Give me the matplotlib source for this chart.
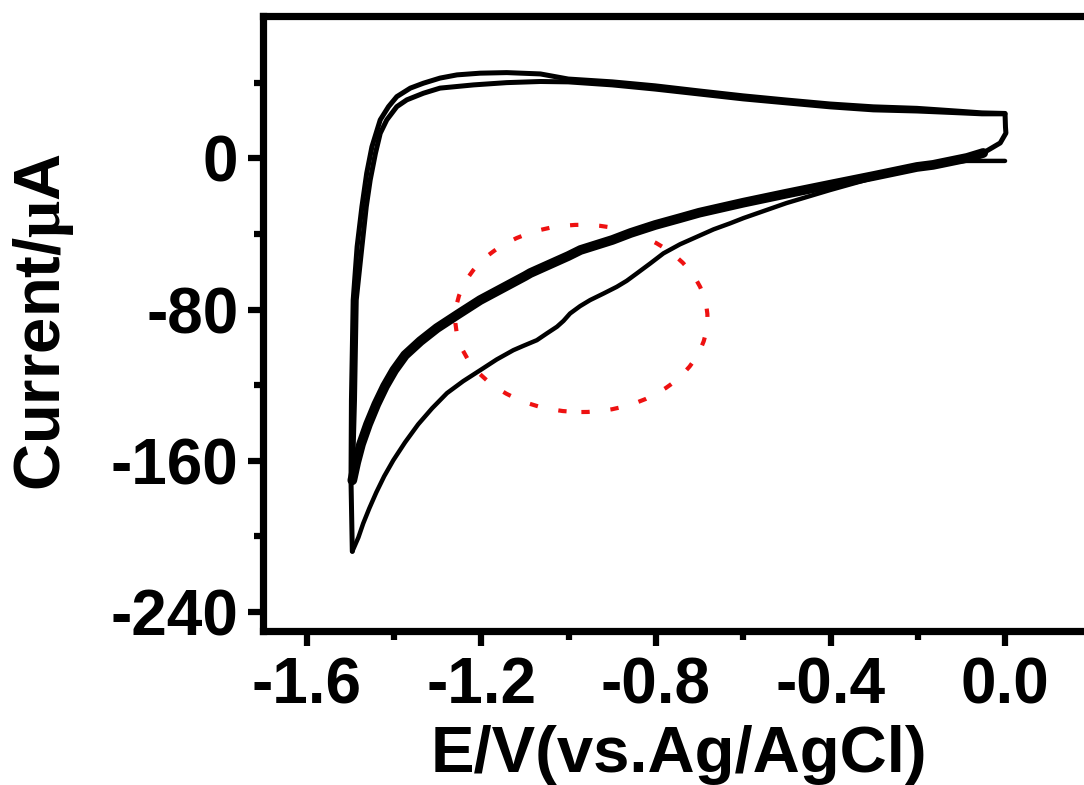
import matplotlib
matplotlib.use("Agg")
import matplotlib.pyplot as plt
from matplotlib.patches import Ellipse
from matplotlib.ticker import FixedLocator

# ---- data (E / V vs Ag/AgCl, current / uA) ----
# first cathodic sweep (thin, with shoulder)
cath1_E = [0.0, -0.092, -0.165, -0.201, -0.302, -0.401, -0.501, -0.599, -0.630, -0.668,
           -0.706, -0.745, -0.783, -0.813, -0.844, -0.867, -0.890, -0.920, -0.951, -0.974,
           -0.997, -1.012, -1.027, -1.050, -1.073, -1.104, -1.127, -1.165, -1.203, -1.242,
           -1.279, -1.313, -1.345, -1.375, -1.402, -1.423, -1.441, -1.457, -1.471, -1.482,
           -1.492, -1.496]
cath1_I = [-1.4, -1.4, -3.5, -5.1, -10.4, -16.8, -23.7, -31.6, -34.4, -37.6,
           -41.5, -45.5, -50.3, -55.6, -60.9, -64.8, -68.0, -71.5, -75.0, -78.2,
           -82.1, -86.0, -89.1, -92.6, -96.2, -99.2, -101.5, -106.4, -112.1, -117.9,
           -124.2, -132.2, -140.7, -150.2, -159.7, -168.2, -176.7, -185.1, -193.1, -200.5,
           -205.8, -207.9]

# first anodic sweep (outer), ending with the turn at 0 V
ano1_E = [-1.496, -1.499, -1.498, -1.494, -1.485, -1.474, -1.463, -1.451, -1.432, -1.413,
          -1.394, -1.363, -1.333, -1.295, -1.256, -1.203, -1.142, -1.065, -1.001, -0.900,
          -0.802, -0.701, -0.600, -0.501, -0.401, -0.302, -0.202, -0.151, -0.101, -0.053,
          0.0, 0.001, 0.002, -0.011, -0.050]
ano1_I = [-207.9, -170.4, -128.0, -75.0, -46.8, -25.6, -7.9, 6.1, 20.3, 27.3,
          32.6, 37.1, 39.7, 42.4, 44.1, 45.0, 45.3, 44.6, 41.9, 40.4,
          38.3, 35.6, 33.0, 30.8, 28.7, 27.2, 26.4, 25.6, 24.8, 24.0,
          23.7, 16.5, 13.3, 8.1, 2.8]

# following cathodic sweeps (thick band)
cath2_E = [-0.050, -0.087, -0.165, -0.202, -0.302, -0.401, -0.501, -0.600, -0.701, -0.744,
           -0.802, -0.858, -0.900, -0.973, -1.001, -1.088, -1.100, -1.203, -1.253, -1.302,
           -1.340, -1.375, -1.400, -1.421, -1.441, -1.460, -1.476, -1.487, -1.496]
cath2_I = [2.8, 0.2, -3.5, -4.6, -9.4, -14.0, -18.7, -23.5, -28.8, -31.6,
           -35.3, -39.5, -43.2, -48.5, -51.7, -60.7, -62.3, -75.0, -82.4, -89.8,
           -96.7, -104.1, -112.1, -120.5, -130.1, -140.7, -151.2, -160.8, -170.3]

# second anodic sweep (inner)
ano2_E = [-1.496, -1.491, -1.487, -1.474, -1.464, -1.455, -1.443, -1.432, -1.417, -1.394,
          -1.371, -1.333, -1.295, -1.218, -1.142, -1.065, -1.001, -0.900, -0.802, -0.701,
          -0.600, -0.501, -0.401, -0.302, -0.202, -0.151, -0.101, -0.053, 0.0]
ano2_I = [-170.3, -128.0, -75.0, -46.8, -25.6, -11.5, 2.6, 13.2, 20.3, 27.3,
          30.9, 34.4, 37.1, 38.8, 40.0, 40.6, 40.4, 38.8, 36.6, 34.0,
          31.4, 29.3, 27.2, 25.6, 25.0, 24.5, 24.0, 23.5, 23.5]

# highlighted region (red dotted ellipse): centre, width, height
ell_center = (-0.971, -84.7)
ell_width = 0.578
ell_height = 99.0

x_ticks = [-1.6, -1.2, -0.8, -0.4, 0.0]
x_ticklabels = ["-1.6", "-1.2", "-0.8", "-0.4", "0.0"]
y_ticks = [0, -80, -160, -240]
y_ticklabels = ["0", "-80", "-160", "-240"]
x_minor = [-1.4, -1.0, -0.6, -0.2, 0.2]
y_minor = [40, -40, -120, -200]

# ---- figure ----
plt.rcParams['font.family'] = ['Liberation Sans', 'DejaVu Sans']
plt.rcParams['font.weight'] = 'bold'
plt.rcParams['mathtext.fontset'] = 'custom'
plt.rcParams['mathtext.rm'] = 'Liberation Serif'

fig = plt.figure(figsize=(10.84, 7.85), dpi=100)
ax = fig.add_axes([263.3 / 1084, 1 - 631 / 785, (1092.3 - 263.3) / 1084, (631 - 15.5) / 785])

style = dict(color='black', solid_joinstyle='round', solid_capstyle='round')
ax.plot(cath1_E, cath1_I, lw=3.2, **style)
ax.plot(ano1_E, ano1_I, lw=3.6, **style)
ax.plot(cath2_E, cath2_I, lw=7.0, **style)
ax.plot(ano2_E, ano2_I, lw=3.6, **style)

ell = Ellipse(ell_center, ell_width, ell_height, fill=False, edgecolor='#ee1111',
              lw=3.0, linestyle=(0, (2.0, 5.0)))
ax.add_patch(ell)

ax.set_xlim(-1.7, 0.2)
ax.set_ylim(-250, 75.5)

ax.xaxis.set_major_locator(FixedLocator(x_ticks))
ax.set_xticklabels(x_ticklabels)
ax.yaxis.set_major_locator(FixedLocator(y_ticks))
ax.set_yticklabels(y_ticklabels)
ax.xaxis.set_minor_locator(FixedLocator(x_minor))
ax.yaxis.set_minor_locator(FixedLocator(y_minor))

for s in ax.spines.values():
    s.set_linewidth(5.2)
    s.set_capstyle('projecting')

ax.tick_params(which='major', direction='out', length=11, width=4.5, pad=7,
               labelsize=46)
ax.tick_params(which='minor', direction='out', length=6.5, width=4.5)
for lab in ax.get_xticklabels() + ax.get_yticklabels():
    lab.set_fontweight('bold')

fig.text(679 / 1084, 1 - 772 / 785, "E/V(vs.Ag/AgCl)", ha='center', va='baseline',
         fontsize=47, fontweight='bold')
fig.text(43 / 1084, 1 - 322 / 785, "Current/$\\mathrm{\\mu}$A", ha='center', va='center',
         rotation=90, fontsize=47, fontweight='bold')

fig.savefig("out.png", dpi=100)
